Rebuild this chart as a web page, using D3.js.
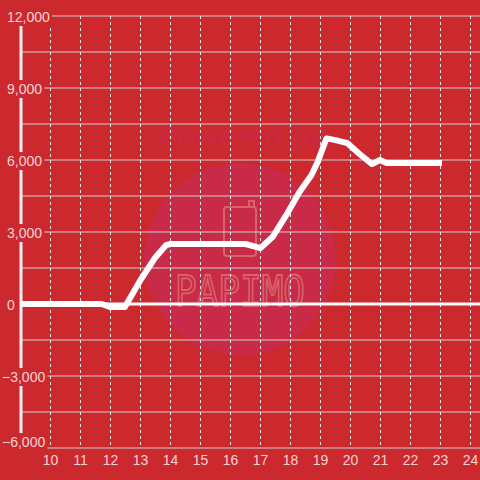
<!DOCTYPE html>
<html>
<head>
<meta charset="utf-8">
<script src="https://cdn.jsdelivr.net/npm/d3@7"></script>
<style>
  html, body { margin: 0; padding: 0; background: #cc292e; }
  svg { display: block; }
</style>
</head>
<body>
<svg width="480" height="480"></svg>
<script>
// data
var xs = [9, 11.7, 12, 12.48, 13, 13.5, 13.85, 14, 16.5, 17, 17.4, 17.9, 18.3, 18.7, 18.9, 19.2, 19.5, 19.9, 20.3, 20.72, 20.98, 21.2, 23.05]
var ys = [0, 0, -130, -130, 1000, 1950, 2450, 2500, 2500, 2330, 2790, 3790, 4670, 5375, 5900, 6900, 6830, 6700, 6250, 5830, 6000, 5880, 5880]
var xTicks = [10, 11, 12, 13, 14, 15, 16, 17, 18, 19, 20, 21, 22, 23, 24]
var yTicks = [12000, 9000, 6000, 3000, 0, -3000, -6000]
var yGrid = d3.range(-6000, 12001, 1500)

var svg = d3.select("svg")
var x = d3.scaleLinear().domain([10, 24]).range([50.5, 470.5])
var y = d3.scaleLinear().domain([-6000, 12000]).range([448, 16])
var fmt = d3.format(",")

svg.append("rect").attr("width", 480).attr("height", 480).attr("fill", "#cc292e")

// watermark
var wm = svg.append("g")
wm.append("circle").attr("cx", 240).attr("cy", 259).attr("r", 96).attr("fill", "#c92a47")
wm.append("text").attr("x", 242).attr("y", 146).attr("text-anchor", "middle")
  .attr("font-family", "Liberation Sans, Arial, sans-serif").attr("font-size", 30)
  .attr("font-weight", "bold").attr("font-style", "italic")
  .attr("fill", "#c92a40").text("Powered by")
wm.append("rect").attr("x", 224).attr("y", 207).attr("width", 32).attr("height", 49).attr("rx", 3)
  .attr("fill", "none").attr("stroke", "#d8636c").attr("stroke-width", 2)
wm.append("path").attr("d", "M249,207 V201 H254 V207").attr("fill", "none").attr("stroke", "#d8636c").attr("stroke-width", 2)
wm.append("text").attr("x", 240).attr("y", 306).attr("text-anchor", "middle")
  .attr("font-family", "DejaVu Sans Mono, monospace").attr("font-size", 36)
  .attr("transform", "translate(240,306) scale(1,1.2) translate(-240,-306)")
  .attr("fill", "none").attr("stroke", "#d8636c").attr("stroke-width", 1.5).text("PAPIMO")

// grid
svg.append("g").selectAll("line").data(yGrid).enter().append("line")
  .attr("x1", 21).attr("x2", 480)
  .attr("y1", function (d) { return y(d) }).attr("y2", function (d) { return y(d) })
  .attr("stroke", "#cfcfcf").attr("stroke-width", 1.2)

svg.append("g").selectAll("line").data(xTicks).enter().append("line")
  .attr("x1", function (d) { return x(d) }).attr("x2", function (d) { return x(d) })
  .attr("y1", 16).attr("y2", 446)
  .attr("stroke", "#e6e6e6").attr("stroke-width", 1).attr("stroke-dasharray", "3,3")

// axis lines
svg.append("line").attr("x1", 21).attr("x2", 21).attr("y1", 16).attr("y2", 448)
  .attr("stroke", "#f2f2f2").attr("stroke-width", 3)
svg.append("line").attr("x1", 21).attr("x2", 480).attr("y1", y(0)).attr("y2", y(0))
  .attr("stroke", "#ffffff").attr("stroke-width", 3)

// y labels with background (kept inside the plot vertically)
var yl = svg.append("g").selectAll("g").data(yTicks).enter().append("g")
yl.append("rect").attr("fill", "#cc292e")
yl.append("text")
  .attr("x", function (d) { return d < 0 ? 2 : 7 })
  .attr("y", function (d) { return Math.min(y(d) + 1, 442) })
  .attr("dy", "0.36em")
  .attr("font-family", "Liberation Sans, Arial, sans-serif").attr("font-size", 14)
  .attr("fill", "#f4d4d4")
  .text(function (d) { return fmt(d) })
yl.each(function () {
  var g = d3.select(this)
  var b = g.select("text").node().getBBox()
  g.select("rect").attr("x", b.x - 2).attr("y", b.y - 1).attr("width", b.width + 4).attr("height", b.height + 2)
})

// x labels
svg.append("g").selectAll("text").data(xTicks).enter().append("text")
  .attr("x", function (d) { return x(d) }).attr("y", 460).attr("dy", "0.36em")
  .attr("text-anchor", "middle")
  .attr("font-family", "Liberation Sans, Arial, sans-serif").attr("font-size", 14)
  .attr("fill", "#f4d4d4")
  .text(function (d) { return d })

// series
var line = d3.line().x(function (d) { return x(d[0]) }).y(function (d) { return y(d[1]) })
svg.append("path").attr("d", line(d3.zip(xs, ys)))
  .attr("fill", "none").attr("stroke", "#ffffff").attr("stroke-width", 6)
  .attr("stroke-linejoin", "round").attr("stroke-linecap", "butt")
</script>
</body>
</html>
